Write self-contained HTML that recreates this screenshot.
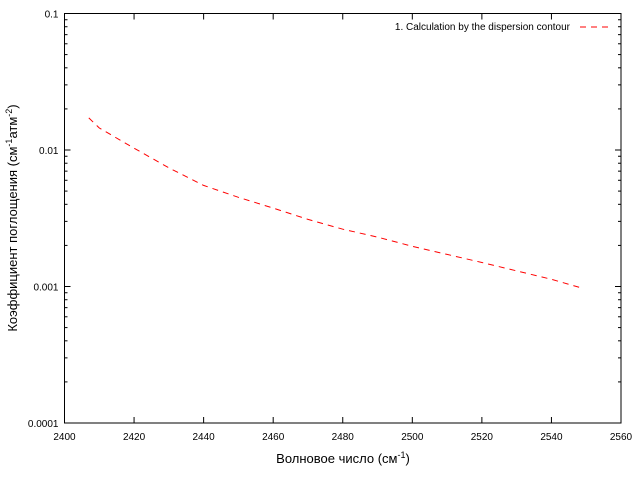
<!DOCTYPE html>
<html><head><meta charset="utf-8"><style>
body{margin:0;background:#fff;}
svg{display:block;font-family:"Liberation Sans","DejaVu Sans",sans-serif;}
</style></head><body>
<svg id="chart" width="640" height="480" viewBox="0 0 640 480">
<rect x="0" y="0" width="640" height="480" fill="#fff"/>
<g id="ticks"></g>
<path id="curve" fill="none" stroke="#ff0000" stroke-width="1" stroke-dasharray="6,5"/>
<rect x="64.5" y="13.5" width="556.5" height="409.5" fill="none" stroke="#000" stroke-width="1"/>
<text x="570" y="30" font-size="10" text-anchor="end" fill="#000">1. Calculation by the dispersion contour</text>
<line x1="580" y1="27" x2="612" y2="27" stroke="#ff0000" stroke-dasharray="6,5"/>
<text x="343" y="463" font-size="13" text-anchor="middle">Волновое число (см<tspan dy="-5" font-size="9">-1</tspan><tspan dy="5">)</tspan></text>
<text transform="translate(17,218) rotate(-90)" font-size="13" text-anchor="middle">Коэффициент поглощения (см<tspan dy="-5" font-size="9">-1</tspan><tspan dy="5">атм</tspan><tspan dy="-5" font-size="9">-2</tspan><tspan dy="5">)</tspan></text>
</svg>
<script>
const xValues=[2407,2410,2420,2430,2440,2450,2460,2470,2480,2490,2500,2510,2520,2530,2540,2549];
const yValues=[0.0172,0.0145,0.0103,0.0074,0.0055,0.0045,0.00375,0.0031,0.00263,0.0023,0.00197,0.00172,0.0015,0.0013,0.00113,0.00097];
const xTicks=[2400,2420,2440,2460,2480,2500,2520,2540,2560];
const yTicks=[0.0001,0.001,0.01,0.1];
const yTickLabels=["0.0001","0.001","0.01","0.1"];
const L=64.5,R=621,T=13.5,B=423;
const sx=v=>L+(v-2400)/160*(R-L);
const sy=v=>B-(Math.log10(v)+4)/3*(B-T);
const ns="http://www.w3.org/2000/svg";
const g=document.getElementById('ticks');
function line(x1,y1,x2,y2){const l=document.createElementNS(ns,'line');l.setAttribute('x1',x1);l.setAttribute('y1',y1);l.setAttribute('x2',x2);l.setAttribute('y2',y2);l.setAttribute('stroke','#000');


g.appendChild(l);}
function txt(x,y,s,anchor){const t=document.createElementNS(ns,'text');t.setAttribute('x',x);t.setAttribute('y',y);t.setAttribute('font-size','10');t.setAttribute('text-anchor',anchor);t.textContent=s;


g.appendChild(t);}
xTicks.forEach(v=>{const x=sx(v);line(x,B,x,B-6);line(x,T,x,T+6);txt(x,B+17,String(v),'middle');});
yTicks.forEach((v,i)=>{const y=sy(v);line(L,y,L+6,y);line(R,y,R-6,y);txt(L-6,y+4,yTickLabels[i],'end');
if(i<yTicks.length-1){for(let k=2;k<10;k++){const yy=sy(v*k);line(L,yy,L+3,yy);line(R,yy,R-3,yy);}}});
let d='';xValues.forEach((x,i)=>{d+=(i?'L':'M')+sx(x).toFixed(1)+','+sy(yValues[i]).toFixed(1);});
document.getElementById('curve').setAttribute('d',d);
</script>
</body></html>
